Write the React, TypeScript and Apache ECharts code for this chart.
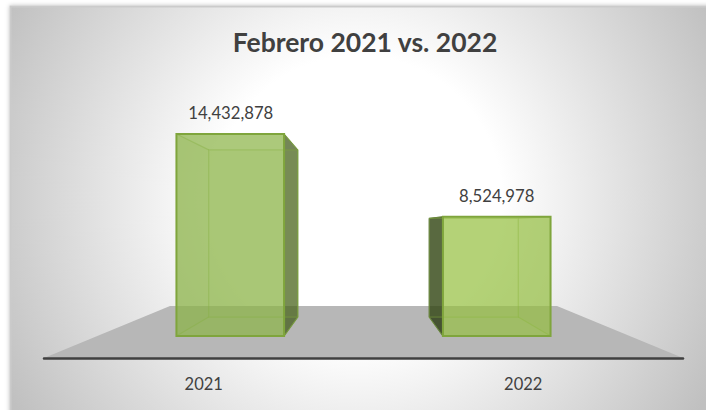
import React, { useEffect, useRef } from "react";
import * as echarts from "echarts";

const titleText = "Febrero 2021 vs. 2022";
const categories = ["2021", "2022"];
const values = [14432878, 8524978];

const FONT = "Lato";
const VP_X = 363.5;
const VP_Y = 226;
const S_FRONT = 0.834;
const S_BACK = 0.69;
const BAR_RATIO = 0.404;
const LABEL_DX = [27, -26.5];
const OUTER_FILL = ["rgba(68,92,28,0.74)", "rgba(40,56,16,0.8)"];
const OUTER_EDGE = ["#6f8f3a", "#55693a"];
const FRONT_FILL = ["rgba(140,180,72,0.72)", "rgba(149,192,64,0.68)"];
const EDGE = "#7fa53c";
const INNER = "rgba(125,165,60,0.45)";

function project(x: number, y: number, s: number): number[] {
  return [VP_X + (x - VP_X) * s, VP_Y + (y - VP_Y) * s];
}

function renderBox(params: any, api: any) {
  const idx = params.dataIndex;
  const value = api.value(1);
  const top = api.coord([api.value(0), value]);
  const base = api.coord([api.value(0), 0]);
  const w = api.size([1, 0])[0] * BAR_RATIO;
  const l = top[0] - w / 2;
  const r = top[0] + w / 2;
  const f = (x: number, y: number) => project(x, y, S_FRONT);
  const b = (x: number, y: number) => project(x, y, S_BACK);
  const fTL = f(l, top[1]), fTR = f(r, top[1]), fBL = f(l, base[1]), fBR = f(r, base[1]);
  const bTL = b(l, top[1]), bTR = b(r, top[1]), bBL = b(l, base[1]), bBR = b(r, base[1]);
  const outerIsRight = idx === 0;
  const outer = outerIsRight ? [fTR, bTR, bBR, fBR] : [fTL, bTL, bBL, fBL];
  const innerWall = outerIsRight ? [fTL, bTL, bBL, fBL] : [fTR, bTR, bBR, fBR];
  const inner = { stroke: INNER, lineWidth: 1.2, fill: "none" };
  return {
    type: "group",
    children: [
      { type: "polygon", shape: { points: outer }, style: { fill: OUTER_FILL[idx], stroke: OUTER_EDGE[idx], lineWidth: 1 } },
      { type: "polygon", shape: { points: [bTL, bTR, bBR, bBL] }, style: { fill: "rgba(150,190,70,0.10)", stroke: INNER, lineWidth: 1.2 } },
      { type: "polygon", shape: { points: innerWall }, style: { fill: "rgba(90,120,30,0.07)" } },
      { type: "polyline", shape: { points: [fTL, bTL] }, style: inner },
      { type: "polyline", shape: { points: [fTR, bTR] }, style: inner },
      { type: "polyline", shape: { points: [fBL, bBL] }, style: inner },
      { type: "polyline", shape: { points: [fBR, bBR] }, style: inner },
      { type: "polygon", shape: { points: [fTL, fTR, fBR, fBL] }, style: { fill: FRONT_FILL[idx], stroke: EDGE, lineWidth: 2 } },
      {
        type: "text",
        style: {
          x: top[0] + LABEL_DX[idx],
          y: fTL[1] - 21,
          text: value.toLocaleString("en-US"),
          fill: "#404040",
          font: `16.7px ${FONT}`,
          align: "center",
          verticalAlign: "middle",
        },
      },
    ],
  };
}

export default function App() {
  const ref = useRef<HTMLDivElement>(null);
  useEffect(() => {
    document.body.style.margin = "0";
    document.body.style.background = "#fff";
    const chart = echarts.init(ref.current!, undefined, { renderer: "svg" });
    chart.setOption({
      animation: false,
      title: {
        text: titleText,
        left: 360,
        top: 23,
        textAlign: "center",
        textStyle: { fontFamily: FONT, fontSize: 26.5, fontWeight: "bold", color: "#404040" },
      },
      grid: { left: 44, right: 23, top: 89.4, bottom: 52 },
      xAxis: {
        type: "category",
        data: categories,
        axisLine: { lineStyle: { color: "#404040", width: 2.5, cap: "round" } },
        axisTick: { show: false },
        axisLabel: { color: "#404040", fontFamily: FONT, fontSize: 16.5, margin: 17 },
      },
      yAxis: { type: "value", min: 0, max: 16000000, show: false, splitLine: { show: false } },
      graphic: [
        {
          type: "rect",
          z: -10,
          shape: { x: 10.5, y: 6.5, width: 700, height: 410 },
          style: {
            fill: new echarts.graphic.RadialGradient(358, 200, 400, [
              { offset: 0, color: "#ffffff" },
              { offset: 0.36, color: "#ffffff" },
              { offset: 1, color: "#c0c0c0" },
            ], true),
            stroke: "#cbcbcb",
            lineWidth: 2,
            shadowBlur: 4,
            shadowColor: "rgba(0,0,0,0.25)",
          },
        },
        {
          type: "polygon",
          z: -5,
          shape: { points: [[44, 358], [170, 306], [557, 306], [683, 358]] },
          style: { fill: "#b7b7b7" },
        },
      ],
      series: [
        {
          type: "custom",
          renderItem: renderBox,
          data: categories.map((_, i) => [i, values[i]]),
          encode: { x: 0, y: 1 },
          clip: false,
        },
      ],
    });
    return () => chart.dispose();
  }, []);
  return <div ref={ref} style={{ width: 706, height: 410 }} />;
}
